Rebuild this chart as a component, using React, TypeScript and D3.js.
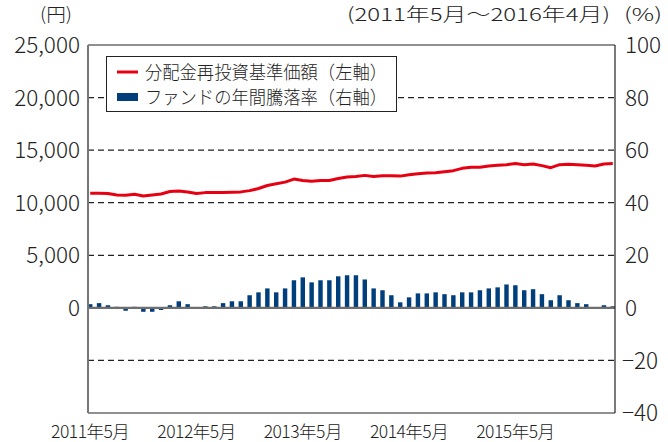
import React, { useEffect, useRef } from 'react';
import * as d3 from 'd3';

// 2011年5月〜2016年4月 (60 months)
const navValues = [
  10900, 10900, 10870, 10740, 10710, 10800, 10640, 10740, 10830, 11060,
  11120, 11020, 10870, 10960, 10960, 10960, 10990, 11030, 11150, 11350,
  11640, 11800, 11960, 12250, 12120, 12050, 12120, 12120, 12310, 12440,
  12500, 12600, 12500, 12560, 12560, 12530, 12660, 12760, 12820, 12850,
  12950, 13050, 13270, 13370, 13370, 13500, 13560, 13620, 13720, 13620,
  13690, 13530, 13330, 13620, 13650, 13620, 13560, 13500, 13690, 13720,
];

const returnValues = [
  1.4, 1.8, 1.0, 0.4, -1.1, 0.4, -1.5, -1.5, -0.8, 1.0,
  2.5, 1.4, -0.2, 0.6, 0.6, 1.8, 2.5, 2.5, 4.8, 5.9,
  7.4, 5.9, 7.4, 10.5, 11.6, 9.7, 10.5, 10.5, 12.0, 12.4,
  12.4, 10.8, 7.4, 6.7, 4.8, 2.1, 4.0, 5.5, 5.5, 5.9,
  5.2, 4.8, 5.9, 5.9, 6.7, 7.4, 7.8, 8.9, 8.6, 6.7,
  7.1, 5.2, 2.9, 4.8, 2.9, 1.8, 1.4, -0.3, 1.0, 0.6,
];

const xLabels = ['2011年5月', '2012年5月', '2013年5月', '2014年5月', '2015年5月'];
const leftTicks = [0, 5000, 10000, 15000, 20000, 25000];
const rightTicks = [-40, -20, 0, 20, 40, 60, 80, 100];
const gridTicks = [80, 60, 40, 20, -20];
const legendNames = ['分配金再投資基準価額（左軸）', 'ファンドの年間騰落率（右軸）'];

const RED = '#e60012';
const BLUE = '#003f7c';
const FONT = '"Noto Sans CJK JP", "Noto Sans", sans-serif';

const App = () => {
  const ref = useRef<SVGSVGElement>(null);

  useEffect(() => {
    const svg = d3.select(ref.current);
    svg.selectAll('*').remove();

    const left = 88, right = 615, top = 45, bottom = 413;

    const x = d3.scaleBand<number>()
      .domain(d3.range(navValues.length))
      .range([left, right])
      .paddingInner(0.5)
      .paddingOuter(0);

    const yR = d3.scaleLinear().domain([-40, 100]).range([bottom, top]);
    const yL = d3.scaleLinear().domain([0, 25000]).range([yR(0), top]);

    const cx = (i: number) => (x(i) as number) + x.bandwidth() / 2;

    // dashed grid
    svg.append('g')
      .selectAll('line')
      .data(gridTicks)
      .enter().append('line')
      .attr('x1', left).attr('x2', right)
      .attr('y1', d => yR(d)).attr('y2', d => yR(d))
      .attr('stroke', '#222')
      .attr('stroke-width', 1.2)
      .attr('stroke-dasharray', '6,4');

    // bars
    svg.append('g')
      .selectAll('rect')
      .data(returnValues)
      .enter().append('rect')
      .attr('x', (d, i) => x(i) as number)
      .attr('y', d => yR(Math.max(0, d)))
      .attr('width', x.bandwidth())
      .attr('height', d => Math.abs(yR(d) - yR(0)))
      .attr('fill', BLUE);

    // zero line
    svg.append('line')
      .attr('x1', left).attr('x2', right)
      .attr('y1', yR(0)).attr('y2', yR(0))
      .attr('stroke', '#6e6e6e')
      .attr('stroke-width', 2.2);

    // NAV line
    const line = d3.line<number>()
      .x((d, i) => cx(i))
      .y(d => yL(d));

    svg.append('path')
      .datum(navValues)
      .attr('d', line)
      .attr('fill', 'none')
      .attr('stroke', RED)
      .attr('stroke-width', 3)
      .attr('stroke-linejoin', 'round');

    // frame
    svg.append('line')
      .attr('x1', left).attr('x2', right).attr('y1', top).attr('y2', top)
      .attr('stroke', '#222').attr('stroke-width', 1.2);
    svg.append('line')
      .attr('x1', left).attr('x2', right).attr('y1', bottom).attr('y2', bottom)
      .attr('stroke', '#222').attr('stroke-width', 1.2);
    svg.append('line')
      .attr('x1', right).attr('x2', right).attr('y1', top).attr('y2', bottom)
      .attr('stroke', '#222').attr('stroke-width', 1.2);
    svg.append('line')
      .attr('x1', left).attr('x2', left).attr('y1', top).attr('y2', bottom)
      .attr('stroke', '#777').attr('stroke-width', 2);

    // left ticks
    svg.append('g')
      .selectAll('text')
      .data(leftTicks)
      .enter().append('text')
      .attr('x', 80)
      .attr('y', d => yL(d))
      .attr('dy', '0.36em')
      .attr('text-anchor', 'end')
      .attr('font-family', FONT)
      .attr('font-size', 22.5)
      .attr('font-weight', 300)
      .attr('fill', '#222')
      .text(d => d3.format(',')(d));

    // right ticks
    svg.append('g')
      .selectAll('text')
      .data(rightTicks)
      .enter().append('text')
      .attr('x', d => (d < 0 ? 622 : 625))
      .attr('y', d => yR(d))
      .attr('dy', '0.36em')
      .attr('font-family', FONT)
      .attr('font-size', 22.5)
      .attr('font-weight', 300)
      .attr('fill', '#222')
      .text(d => (d < 0 ? '−' + Math.abs(d) : String(d)));

    // x labels
    svg.append('g')
      .selectAll('text')
      .data(xLabels)
      .enter().append('text')
      .attr('x', (d, i) => cx(i * 12))
      .attr('y', 438)
      .attr('text-anchor', 'middle')
      .attr('font-family', FONT)
      .attr('font-size', 17.5)
      .attr('font-weight', 300)
      .attr('letter-spacing', -0.5)
      .attr('fill', '#222')
      .text(d => d);

    // top labels
    const topText = (tx: number, w: number, s: string) =>
      svg.append('text')
        .attr('x', tx).attr('y', 21)
        .attr('textLength', w)
        .attr('lengthAdjust', 'spacingAndGlyphs')
        .attr('font-family', FONT)
        .attr('font-size', 18)
        .attr('font-weight', 300)
        .attr('fill', '#222')
        .text(s);
    topText(40, 32, '(円)');
    topText(347, 263, '(2011年5月～2016年4月)');
    topText(624, 38, '(%)');

    // legend
    const lg = svg.append('g');
    lg.append('rect')
      .attr('x', 106.5).attr('y', 56.5)
      .attr('width', 290).attr('height', 55)
      .attr('fill', '#fff')
      .attr('stroke', '#222')
      .attr('stroke-width', 1);
    lg.append('line')
      .attr('x1', 117).attr('x2', 138).attr('y1', 72).attr('y2', 72)
      .attr('stroke', RED).attr('stroke-width', 3);
    lg.append('rect')
      .attr('x', 117).attr('y', 93).attr('width', 21).attr('height', 8)
      .attr('fill', BLUE);
    lg.selectAll('text.lab')
      .data(legendNames)
      .enter().append('text')
      .attr('class', 'lab')
      .attr('x', 145)
      .attr('y', (d, i) => 72 + i * 25)
      .attr('dy', '0.36em')
      .attr('textLength', 242)
      .attr('lengthAdjust', 'spacingAndGlyphs')
      .attr('font-family', FONT)
      .attr('font-size', 18.5)
      .attr('font-weight', 300)
      .attr('fill', '#222')
      .text(d => d);
  }, []);

  return (
    <svg
      ref={ref}
      width={668}
      height={442}
      style={{ position: 'absolute', left: 0, top: 0, background: '#fff' }}
    />
  );
};

export default App;
